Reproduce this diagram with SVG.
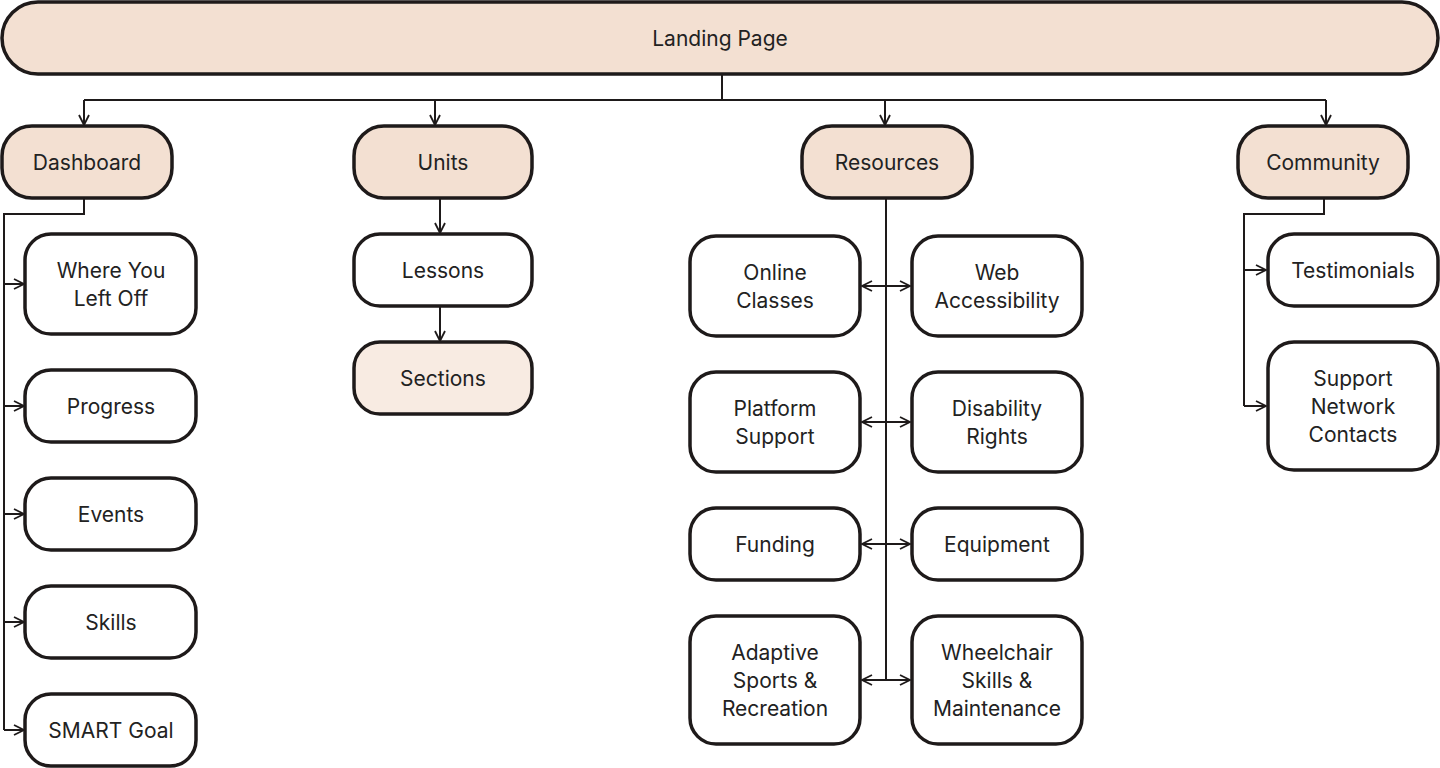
<svg xmlns="http://www.w3.org/2000/svg" width="1440" height="768" viewBox="0 0 1440 768">
<defs>
<marker id="ah" viewBox="0 0 12 12" refX="11" refY="6" markerWidth="12" markerHeight="12" markerUnits="userSpaceOnUse" orient="auto-start-reverse"><path d="M1,1 L11,6 L1,11" fill="none" stroke="#1e1a1a" stroke-width="1.8"/></marker>
<style>
.n rect{fill:#fff;stroke:#1e1a1a;stroke-width:3.5}
.f rect{fill:#f3e0d2}
.s rect{fill:#f8ebe2}
text{font-family:Inter,"Noto Sans",sans-serif;font-size:21px;fill:#222;text-anchor:middle;dominant-baseline:central}
.c path{fill:none;stroke:#1e1a1a;stroke-width:2}
</style>
</defs>
<rect width="1440" height="768" fill="#fff"/>
<g class="c">
<path d="M722,74V100M84,100H1326"/>
<path d="M84,100V125" marker-end="url(#ah)"/>
<path d="M435,100V125" marker-end="url(#ah)"/>
<path d="M885,100V125" marker-end="url(#ah)"/>
<path d="M1326,100V125" marker-end="url(#ah)"/>
<path d="M84,198V214H4V730"/>
<path d="M4,284H24" marker-end="url(#ah)"/>
<path d="M4,406H24" marker-end="url(#ah)"/>
<path d="M4,514H24" marker-end="url(#ah)"/>
<path d="M4,622H24" marker-end="url(#ah)"/>
<path d="M4,730H24" marker-end="url(#ah)"/>
<path d="M440,198V233" marker-end="url(#ah)"/>
<path d="M440,306V341" marker-end="url(#ah)"/>
<path d="M886,198V680"/>
<path d="M862,286H910" marker-start="url(#ah)" marker-end="url(#ah)"/>
<path d="M862,422H910" marker-start="url(#ah)" marker-end="url(#ah)"/>
<path d="M862,544H910" marker-start="url(#ah)" marker-end="url(#ah)"/>
<path d="M862,680H910" marker-start="url(#ah)" marker-end="url(#ah)"/>
<path d="M1324,198V214H1244V406"/>
<path d="M1244,270H1266" marker-end="url(#ah)"/>
<path d="M1244,406H1266" marker-end="url(#ah)"/>
</g>
<g id="landing" class="n f"><rect x="2" y="2" width="1436" height="72" rx="36"/><text x="720" y="38">Landing Page</text></g>
<g id="dashboard" class="n f"><rect x="2" y="126" width="170" height="72" rx="30"/><text x="87" y="162">Dashboard</text></g>
<g id="units" class="n f"><rect x="354" y="126" width="178" height="72" rx="30"/><text x="443" y="162">Units</text></g>
<g id="resources" class="n f"><rect x="802" y="126" width="170" height="72" rx="30"/><text x="887" y="162">Resources</text></g>
<g id="community" class="n f"><rect x="1238" y="126" width="170" height="72" rx="30"/><text x="1323" y="162">Community</text></g>
<g id="where" class="n"><rect x="25" y="234" width="171" height="100" rx="26"/><text x="111" y="270">Where You</text><text x="111" y="298">Left Off</text></g>
<g id="progress" class="n"><rect x="25" y="370" width="171" height="72" rx="26"/><text x="111" y="406">Progress</text></g>
<g id="events" class="n"><rect x="25" y="478" width="171" height="72" rx="26"/><text x="111" y="514">Events</text></g>
<g id="skills" class="n"><rect x="25" y="586" width="171" height="72" rx="26"/><text x="111" y="622">Skills</text></g>
<g id="smart" class="n"><rect x="25" y="694" width="171" height="72" rx="26"/><text x="111" y="730">SMART Goal</text></g>
<g id="lessons" class="n"><rect x="354" y="234" width="178" height="72" rx="26"/><text x="443" y="270">Lessons</text></g>
<g id="sections" class="n s"><rect x="354" y="342" width="178" height="72" rx="26"/><text x="443" y="378">Sections</text></g>
<g id="online" class="n"><rect x="690" y="236" width="170" height="100" rx="26"/><text x="775" y="272">Online</text><text x="775" y="300">Classes</text></g>
<g id="web" class="n"><rect x="912" y="236" width="170" height="100" rx="26"/><text x="997" y="272">Web</text><text x="997" y="300">Accessibility</text></g>
<g id="platform" class="n"><rect x="690" y="372" width="170" height="100" rx="26"/><text x="775" y="408">Platform</text><text x="775" y="436">Support</text></g>
<g id="rights" class="n"><rect x="912" y="372" width="170" height="100" rx="26"/><text x="997" y="408">Disability</text><text x="997" y="436">Rights</text></g>
<g id="funding" class="n"><rect x="690" y="508" width="170" height="72" rx="26"/><text x="775" y="544">Funding</text></g>
<g id="equipment" class="n"><rect x="912" y="508" width="170" height="72" rx="26"/><text x="997" y="544">Equipment</text></g>
<g id="adaptive" class="n"><rect x="690" y="616" width="170" height="128" rx="26"/><text x="775" y="652">Adaptive</text><text x="775" y="680">Sports &amp;</text><text x="775" y="708">Recreation</text></g>
<g id="wheelchair" class="n"><rect x="912" y="616" width="170" height="128" rx="26"/><text x="997" y="652">Wheelchair</text><text x="997" y="680">Skills &amp;</text><text x="997" y="708">Maintenance</text></g>
<g id="testimonials" class="n"><rect x="1268" y="234" width="170" height="72" rx="26"/><text x="1353" y="270">Testimonials</text></g>
<g id="support" class="n"><rect x="1268" y="342" width="170" height="128" rx="26"/><text x="1353" y="378">Support</text><text x="1353" y="406">Network</text><text x="1353" y="434">Contacts</text></g>
</svg>
